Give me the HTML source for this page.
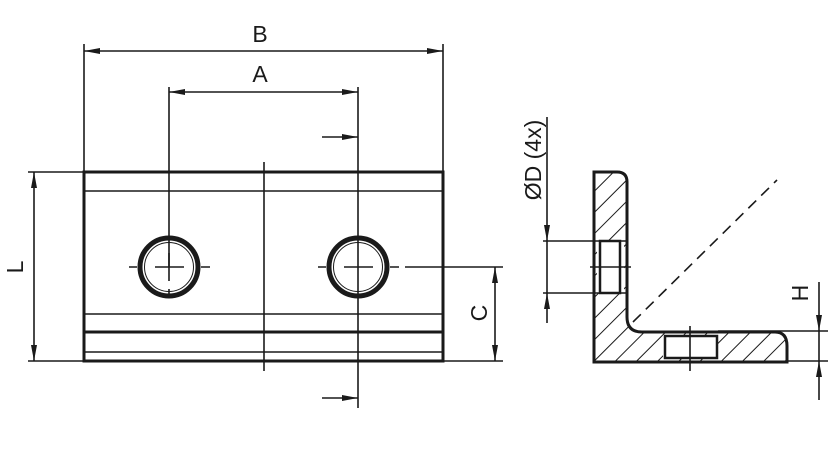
<!DOCTYPE html>
<html><head><meta charset="utf-8"><style>
html,body{margin:0;padding:0;background:#fff;}
svg{display:block}
text{font-family:"Liberation Sans","DejaVu Sans",sans-serif;font-size:23px;fill:#1a1a1a}
</style></head><body>
<svg width="828" height="472" viewBox="0 0 828 472" xmlns="http://www.w3.org/2000/svg">
<defs>
<marker id="ar" viewBox="0 0 16 6" refX="16" refY="3" markerWidth="16" markerHeight="6" markerUnits="userSpaceOnUse" orient="auto-start-reverse"><path d="M0,0 L16,3 L0,6 z" fill="#1a1a1a"/></marker>
<pattern id="hatch" patternUnits="userSpaceOnUse" width="15" height="15" patternTransform="rotate(45)"><line x1="0" y1="0" x2="0" y2="15" stroke="#1a1a1a" stroke-width="2"/></pattern>
</defs>
<g stroke="#1a1a1a" fill="none" stroke-width="1.6">
<rect x="84" y="172" width="359" height="189" stroke-width="3"/>
<line x1="84" y1="191" x2="443" y2="191"/>
<line x1="84" y1="314" x2="443" y2="314"/>
<line x1="84" y1="332" x2="443" y2="332" stroke-width="3"/>
<line x1="84" y1="352" x2="443" y2="352"/>
<line x1="264" y1="162" x2="264" y2="371"/>
<circle cx="169" cy="267" r="29" stroke-width="5"/>
<circle cx="169" cy="267" r="24.5" stroke-width="1"/>
<circle cx="358" cy="267" r="29" stroke-width="5"/>
<circle cx="358" cy="267" r="24.5" stroke-width="1"/>
<path d="M129 267h8M155 267h29M201 267h9M169 253v28M169 289v8"/>
<path d="M318 267h8M344 267h29M390 267h9"/>
<line x1="84" y1="44" x2="84" y2="172"/>
<line x1="443" y1="44" x2="443" y2="172"/>
<line x1="84" y1="51" x2="443" y2="51" marker-start="url(#ar)" marker-end="url(#ar)"/>
<line x1="169" y1="87" x2="169" y2="267"/>
<line x1="358" y1="87" x2="358" y2="408"/>
<line x1="169" y1="92" x2="358" y2="92" marker-start="url(#ar)" marker-end="url(#ar)"/>
<line x1="322" y1="137" x2="358" y2="137" marker-end="url(#ar)"/>
<line x1="322" y1="398" x2="358" y2="398" marker-end="url(#ar)"/>
<line x1="28" y1="172" x2="84" y2="172"/>
<line x1="28" y1="361" x2="84" y2="361"/>
<line x1="34" y1="172" x2="34" y2="361" marker-start="url(#ar)" marker-end="url(#ar)"/>
<line x1="405" y1="267" x2="503" y2="267"/>
<line x1="443" y1="361" x2="503" y2="361"/>
<line x1="495" y1="267" x2="495" y2="361" marker-start="url(#ar)" marker-end="url(#ar)"/>
<path d="M594 172 H617 Q627 172 627 182 V317 Q627 332 642 332 H775 Q787 332 787 346 V362 H594 Z" fill="url(#hatch)" stroke-width="3"/>
<rect x="597" y="241" width="27" height="52" fill="#fff" stroke="none"/>
<rect x="600" y="241" width="20" height="52" stroke-width="2.5"/>
<line x1="594" y1="241" x2="627" y2="241"/>
<line x1="594" y1="293" x2="627" y2="293"/>
<line x1="590" y1="267" x2="631" y2="267"/>
<rect x="663" y="335" width="55" height="24" fill="#fff" stroke="none"/>
<rect x="665" y="336" width="52" height="22" stroke-width="2.5"/>
<line x1="690" y1="326" x2="690" y2="371"/>
<line x1="633" y1="322" x2="777" y2="180" stroke-dasharray="11,7"/>
<line x1="543" y1="241" x2="594" y2="241"/>
<line x1="543" y1="293" x2="594" y2="293"/>
<line x1="547" y1="117" x2="547" y2="241" marker-end="url(#ar)"/>
<line x1="547" y1="323" x2="547" y2="293" marker-end="url(#ar)"/>
<line x1="547" y1="241" x2="547" y2="293"/>
<line x1="718" y1="331" x2="828" y2="331"/>
<line x1="787" y1="361" x2="828" y2="361"/>
<line x1="819" y1="282" x2="819" y2="331" marker-end="url(#ar)"/>
<line x1="819" y1="400" x2="819" y2="361" marker-end="url(#ar)"/>
<line x1="819" y1="331" x2="819" y2="361"/>
</g>
<text x="260" y="42" text-anchor="middle">B</text>
<text x="260" y="82" text-anchor="middle">A</text>
<text transform="translate(23,267) rotate(-90)" text-anchor="middle">L</text>
<text transform="translate(487,313) rotate(-90)" text-anchor="middle">C</text>
<text transform="translate(541,160) rotate(-90)" text-anchor="middle">ØD (4x)</text>
<text transform="translate(808,293) rotate(-90)" text-anchor="middle">H</text>
</svg>
</body></html>
